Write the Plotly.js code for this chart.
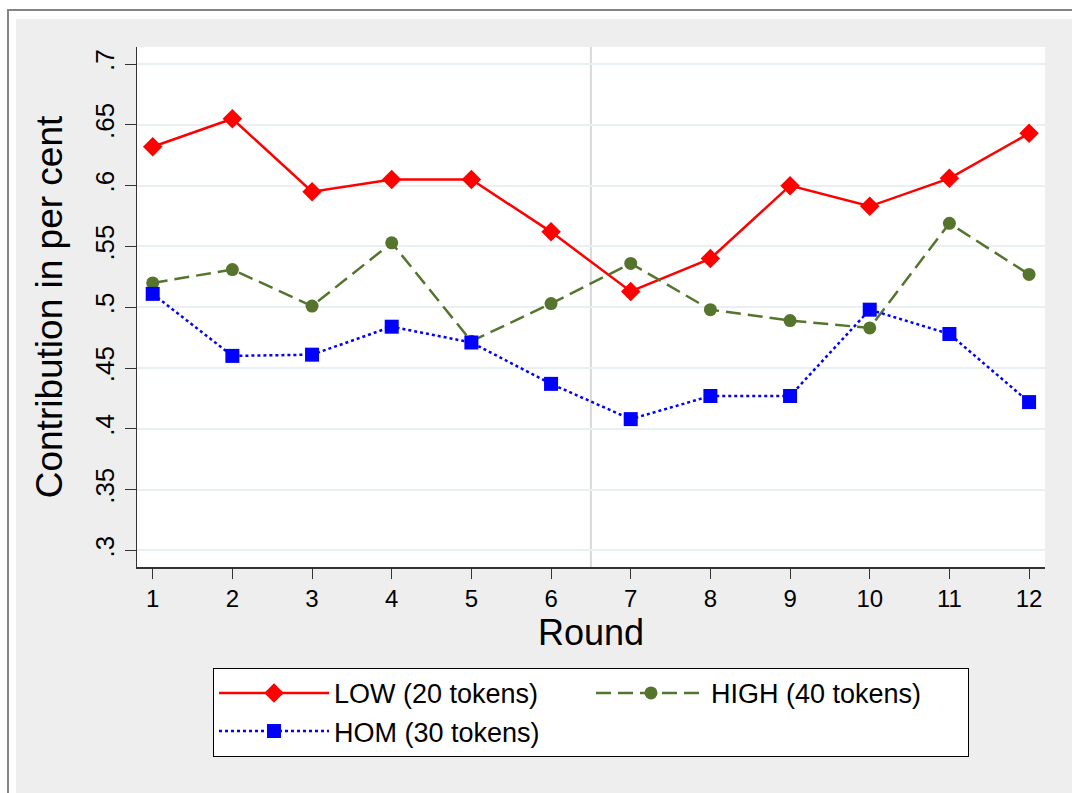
<!DOCTYPE html>
<html>
<head>
<meta charset="utf-8">
<script src="https://cdn.plot.ly/plotly-3.0.1.min.js"></script>
<style>
  html, body { margin: 0; padding: 0; background: #ffffff; }
  #frame { position: absolute; left: 7px; top: 9px; width: 1065px; height: 784px;
           border-top: 2px solid #858585; border-left: 2px solid #858585; box-sizing: border-box; }
  #fill { position: absolute; left: 16px; top: 19px; width: 1056px; height: 774px; background: #eeeeee; }
  #chart { position: absolute; left: 0; top: 0; width: 1072px; height: 793px; }
</style>
</head>
<body>
<div id="frame"></div>
<div id="fill"></div>
<div id="chart"></div>
<script>
// ---- data ----
const rounds = [1, 2, 3, 4, 5, 6, 7, 8, 9, 10, 11, 12];
const lowVals  = [0.632, 0.655, 0.595, 0.605, 0.605, 0.562, 0.513, 0.540, 0.600, 0.583, 0.606, 0.643];
const highVals = [0.520, 0.531, 0.501, 0.553, 0.472, 0.503, 0.536, 0.498, 0.489, 0.483, 0.569, 0.527];
const homVals  = [0.511, 0.460, 0.461, 0.484, 0.471, 0.437, 0.408, 0.427, 0.427, 0.498, 0.478, 0.422];
const seriesNames = ['LOW (20 tokens)', 'HIGH (40 tokens)', 'HOM (30 tokens)'];
const yTickVals = [0.3, 0.35, 0.4, 0.45, 0.5, 0.55, 0.6, 0.65, 0.7];
const yTickText = ['.3', '.35', '.4', '.45', '.5', '.55', '.6', '.65', '.7'];
const xTickVals = rounds;
const xTickText = rounds.map(String);
const splitRound = 6.5;

const FONT = '"Liberation Sans", Arial, Helvetica, sans-serif';

const traces = [
  { x: rounds, y: lowVals, name: seriesNames[0], type: 'scatter', mode: 'lines+markers',
    line: { color: '#ff0000', width: 2.5, dash: 'solid' },
    marker: { symbol: 'diamond', size: 15, color: '#ff0000' } },
  { x: rounds, y: highVals, name: seriesNames[1], type: 'scatter', mode: 'lines+markers',
    line: { color: '#55752f', width: 2.5, dash: '15px,7px' },
    marker: { symbol: 'circle', size: 13, color: '#55752f' } },
  { x: rounds, y: homVals, name: seriesNames[2], type: 'scatter', mode: 'lines+markers',
    line: { color: '#0000ff', width: 2.5, dash: '3px,3px' },
    marker: { symbol: 'square', size: 14, color: '#0000ff' } }
];

const layout = {
  width: 1072, height: 793,
  margin: { l: 137, r: 27, t: 47, b: 226 },
  paper_bgcolor: 'rgba(0,0,0,0)',
  plot_bgcolor: '#ffffff',
  font: { family: FONT, color: '#000000', size: 24 },
  showlegend: true,
  xaxis: {
    range: [0.803, 12.2],
    tickvals: xTickVals, ticktext: xTickText,
    showgrid: false, zeroline: false,
    showline: true, linecolor: '#333333', linewidth: 1.5,
    ticks: 'outside', ticklen: 10, tickcolor: '#333333', tickwidth: 1,
    tickfont: { size: 24, family: FONT },
    title: { text: 'Round', font: { size: 36, family: FONT }, standoff: 3 }
  },
  yaxis: {
    range: [0.2864, 0.714],
    tickvals: yTickVals, ticktext: yTickText,
    tickangle: -90,
    showgrid: true, gridcolor: '#e8f0f2', gridwidth: 2,
    zeroline: false,
    showline: true, linecolor: '#333333', linewidth: 1.5,
    ticks: 'outside', ticklen: 11, tickcolor: '#333333', tickwidth: 1,
    tickfont: { size: 26, family: FONT },
    title: { text: 'Contribution in per cent', font: { size: 37, family: FONT }, standoff: 16 }
  },
  shapes: [
    { type: 'line', xref: 'x', yref: 'paper', x0: splitRound, x1: splitRound, y0: 0, y1: 1,
      line: { color: '#d8d8d8', width: 2 }, layer: 'below' }
  ],
  legend: {
    orientation: 'h', x: 0.5, xanchor: 'center', y: -0.194, yanchor: 'top',
    bgcolor: '#ffffff', bordercolor: '#000000', borderwidth: 1,
    font: { size: 27, family: FONT },
    entrywidth: 252, entrywidthmode: 'pixels',
    itemwidth: 110
  }
};

Plotly.newPlot('chart', traces, layout, { displayModeBar: false, staticPlot: true });
</script>
</body>
</html>
